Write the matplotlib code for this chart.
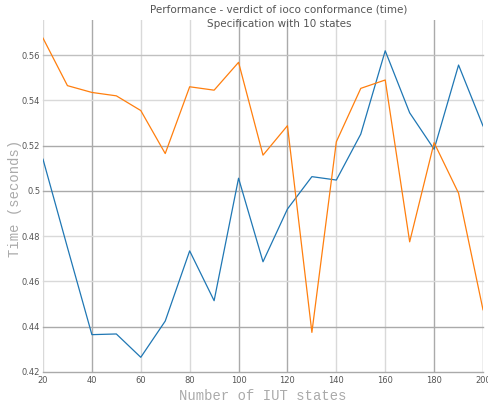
import matplotlib
matplotlib.use("Agg")
import matplotlib.pyplot as plt

# IUT states
states = [20, 30, 40, 50, 60, 70, 80, 90, 100, 110, 120, 130, 140, 150, 160, 170, 180, 190, 200]

# time in seconds, two series
blue_times = [0.514, 0.475, 0.4365, 0.4368, 0.4265, 0.4425, 0.4735, 0.4515, 0.5056, 0.4687,
              0.492, 0.5063, 0.5048, 0.5251, 0.5619, 0.5345, 0.5184, 0.5556, 0.5287]
orange_times = [0.5675, 0.5465, 0.5435, 0.542, 0.5355, 0.5165, 0.546, 0.5445, 0.5568, 0.5158,
                0.5288, 0.4375, 0.5217, 0.5453, 0.549, 0.4775, 0.5213, 0.499, 0.4475]

x_ticks = [20, 40, 60, 80, 100, 120, 140, 160, 180, 200]
y_ticks = [0.42, 0.44, 0.46, 0.48, 0.5, 0.52, 0.54, 0.56]
y_labels = ["0.42", "0.44", "0.46", "0.48", "0.5", "0.52", "0.54", "0.56"]

fig = plt.figure(figsize=(4.88, 4.09), dpi=100)
ax = fig.add_axes([43 / 488, 37 / 409, 440 / 488, 352 / 409])

ax.plot(states, blue_times, color="#1f77b4", lw=0.9, zorder=3)
ax.plot(states, orange_times, color="#ff7f0e", lw=0.9, zorder=3)

ax.set_xlim(20, 200)
ax.set_ylim(0.42, 0.5755)
ax.set_xticks(x_ticks)
ax.set_yticks(y_ticks)
ax.set_yticklabels(y_labels)
ax.tick_params(length=0, labelsize=6, colors="#555555", pad=2)
ax.tick_params(axis="x", pad=3)

for s in ax.spines.values():
    s.set_visible(False)

ax.grid(True, lw=1.0, zorder=0)
ax.set_axisbelow(True)
dark, mid, light = "#aaaaaa", "#c0c0c0", "#d9d9d9"
xcols = [light, dark, light, light, dark, dark, light, light, dark, dark]
ycols = [dark, dark, light, light, dark, dark, light, mid]
for g, c in zip(ax.get_xgridlines(), xcols):
    g.set_color(c)
for g, c in zip(ax.get_ygridlines(), ycols):
    g.set_color(c)
    g.set_clip_on(False)

fig.text(279 / 488, 1 - 10 / 409, "Performance - verdict of ioco conformance (time)",
         ha="center", va="center", fontsize=7.5, color="#555555")
fig.text(279 / 488, 1 - 24 / 409, "Specification with 10 states",
         ha="center", va="center", fontsize=7.5, color="#555555")

fig.text(263 / 488, 1 - 396 / 409, "Number of IUT states", ha="center", va="center",
         fontsize=10, color="#aaaaaa", family="Liberation Mono")
fig.text(15 / 488, 1 - 198 / 409, "Time (seconds)", ha="center", va="center", rotation=90,
         fontsize=10, color="#aaaaaa", family="Liberation Mono")

fig.savefig("out.png", dpi=100)
